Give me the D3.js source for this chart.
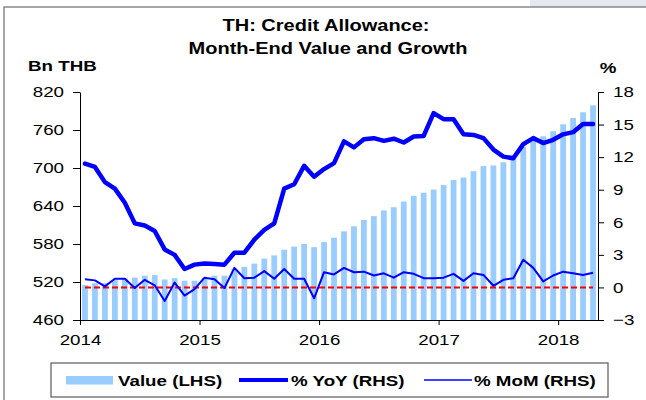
<!DOCTYPE html>
<html>
<head>
<meta charset="utf-8">
<script src="https://cdn.jsdelivr.net/npm/d3@7"></script>
<style>
  body { margin: 0; background: #fff; }
  svg text { font-family: "Liberation Sans", Arial, sans-serif; fill: #000; }
</style>
</head>
<body>
<div id="chart"></div>
<script>
// Data (Jan 2014 - Apr 2018, monthly)
var years = ["2014", "2015", "2016", "2017", "2018"]
var leftTicks = [460, 520, 580, 640, 700, 760, 820]
var rightTicks = [-3, 0, 3, 6, 9, 12, 15, 18]

var value = [515, 518, 518, 523, 526, 527, 530, 531, 524, 526, 522, 522,
  526, 530, 530, 541, 544, 549, 557, 562, 571, 576, 580, 575,
  583, 590, 600, 608, 618, 624, 633, 638, 647, 656, 661, 666,
  673, 681, 685, 695, 703, 704, 709, 715, 733, 746, 750, 758,
  769, 779, 788, 799]

var yoy = [11.4, 11.1, 9.7, 9.1, 7.8, 5.9, 5.7, 5.2, 3.5, 3.0, 1.7, 2.1,
  2.2, 2.15, 2.1, 3.2, 3.2, 4.4, 5.3, 5.9, 9.1, 9.5, 11.2, 10.2,
  10.9, 11.45, 13.45, 12.9, 13.65, 13.75, 13.5, 13.7, 13.35, 13.9, 13.95, 16.05,
  15.5, 15.5, 14.1, 14.05, 13.75, 12.7, 12.05, 11.9, 13.2, 13.75, 13.3, 13.6,
  14.1, 14.3, 15.05, 15.05]

var mom = [0.75, 0.65, 0.1, 0.8, 0.8, -0.05, 0.7, 0.2, -1.25, 0.45, -0.75, -0.15,
  0.9, 0.75, -0.05, 1.8, 0.85, 0.9, 1.5, 0.8, 1.7, 0.8, 0.8, -1.0,
  1.4, 1.2, 1.8, 1.4, 1.45, 1.1, 1.3, 0.9, 1.4, 1.25, 0.85, 0.85,
  0.9, 1.25, 0.6, 1.3, 1.15, 0.15, 0.7, 0.85, 2.55, 1.8, 0.55, 1.1,
  1.45, 1.3, 1.15, 1.35]

var width = 646, height = 400
var margin = { top: 92, right: 48, bottom: 80, left: 80 }
var SX = 1.25 // text in the picture is stretched horizontally

var svg = d3.select("#chart")
  .append("svg")
  .attr("width", width)
  .attr("height", height)

// frame (only top/left edge visible in the crop)
svg.append("rect")
  .attr("x", 530).attr("y", 0)
  .attr("width", 116).attr("height", 7)
  .attr("fill", "#e6e8ef")
svg.append("rect")
  .attr("x", 4).attr("y", 7)
  .attr("width", 700).attr("height", 500)
  .attr("fill", "none")
  .attr("stroke", "#777")
  .attr("stroke-width", 1.3)

function stretchText(sel, x, y, txt, size, anchor, weight) {
  return sel.append("text")
    .attr("transform", `translate(${x},${y}) scale(${SX},1)`)
    .attr("text-anchor", anchor)
    .style("font-size", size + "px")
    .style("font-weight", weight)
    .text(txt)
}

// Title
stretchText(svg, 326, 31, "TH: Credit Allowance:", 16, "middle", "bold")
stretchText(svg, 328, 54, "Month-End Value and Growth", 16, "middle", "bold")
stretchText(svg, 28, 71, "Bn THB", 15, "start", "bold")
stretchText(svg, 608, 73, "%", 15, "middle", "bold")

// Scales
var months = d3.range(value.length)
var xBand = d3.scaleBand()
  .domain(months)
  .range([margin.left, width - margin.right])
  .paddingInner(0.42)
  .paddingOuter(0.21)

var xScale = d3.scaleLinear()
  .domain([0, value.length])
  .range([margin.left, width - margin.right])

var xMid = i => xBand(i) + xBand.bandwidth() / 2

var yLeft = d3.scaleLinear()
  .domain([460, 820])
  .range([height - margin.bottom, margin.top])

var yRight = d3.scaleLinear()
  .domain([-3, 18])
  .range([height - margin.bottom, margin.top])

// Bars
svg.append("g")
  .attr("class", "bars")
  .selectAll("rect")
  .data(value)
  .enter()
  .append("rect")
  .attr("x", (d, i) => xBand(i))
  .attr("y", d => yLeft(d))
  .attr("width", xBand.bandwidth())
  .attr("height", d => yLeft(460) - yLeft(d))
  .attr("fill", "#99ccff")

// zero line (RHS)
svg.append("line")
  .attr("x1", xMid(0))
  .attr("x2", xMid(value.length - 1))
  .attr("y1", yRight(0))
  .attr("y2", yRight(0))
  .attr("stroke", "#ff0000")
  .attr("stroke-width", 2)
  .attr("stroke-dasharray", "6,3")

var lineR = d3.line()
  .x((d, i) => xMid(i))
  .y(d => yRight(d))

svg.append("path")
  .datum(yoy)
  .attr("class", "line yoy")
  .attr("d", lineR)
  .attr("fill", "none")
  .attr("stroke", "#0000ff")
  .attr("stroke-width", 4.5)
  .attr("stroke-linejoin", "round")
  .attr("stroke-linecap", "round")

svg.append("path")
  .datum(mom)
  .attr("class", "line mom")
  .attr("d", lineR)
  .attr("fill", "none")
  .attr("stroke", "#0000ff")
  .attr("stroke-width", 2)
  .attr("stroke-linejoin", "round")

// Axes
var yAxisL = d3.axisLeft(yLeft).tickValues(leftTicks).tickSize(7).tickSizeOuter(0)
var yAxisR = d3.axisRight(yRight).tickValues(rightTicks).tickSize(6).tickSizeOuter(0)
var xAxis = d3.axisBottom(xScale)
  .tickValues(years.map((y, i) => i * 12))
  .tickFormat((d, i) => years[i])
  .tickSize(5)
  .tickSizeOuter(0)

svg.append("g")
  .attr("class", "y-axis")
  .attr("transform", `translate(${margin.left},0)`)
  .call(yAxisL)
  .selectAll("text")
  .style("font-size", "15px")
  .attr("x", -16 / SX)
  .attr("transform", `scale(${SX},1)`)

svg.append("g")
  .attr("class", "y-axis-r")
  .attr("transform", `translate(${width - margin.right},0)`)
  .call(yAxisR)
  .selectAll("text")
  .style("font-size", "15px")
  .attr("x", 15 / SX)
  .attr("transform", `scale(${SX},1)`)

svg.append("g")
  .attr("class", "x-axis")
  .attr("transform", `translate(0,${height - margin.bottom})`)
  .call(xAxis)
  .selectAll("text")
  .style("font-size", "15px")
  .attr("y", 14)
  .attr("transform", `scale(${SX},1)`)

svg.selectAll(".domain, .tick line").attr("stroke", "#000")

// Legend
var lg = svg.append("g").attr("class", "legend")
lg.append("rect")
  .attr("x", 51).attr("y", 363)
  .attr("width", 557).attr("height", 34)
  .attr("fill", "#fff")
  .attr("stroke", "#666")
  .attr("stroke-width", 1.3)
lg.append("rect")
  .attr("x", 66).attr("y", 376)
  .attr("width", 47).attr("height", 8.5)
  .attr("fill", "#99ccff")
stretchText(lg, 118, 386, "Value (LHS)", 15, "start", "bold")
lg.append("line")
  .attr("x1", 239).attr("x2", 288).attr("y1", 380).attr("y2", 380)
  .attr("stroke", "#0000ff").attr("stroke-width", 4)
stretchText(lg, 291, 386, "% YoY (RHS)", 15, "start", "bold")
lg.append("line")
  .attr("x1", 424).attr("x2", 472).attr("y1", 380).attr("y2", 380)
  .attr("stroke", "#0000ff").attr("stroke-width", 1.5)
stretchText(lg, 474, 386, "% MoM (RHS)", 15, "start", "bold")
</script>
</body>
</html>
